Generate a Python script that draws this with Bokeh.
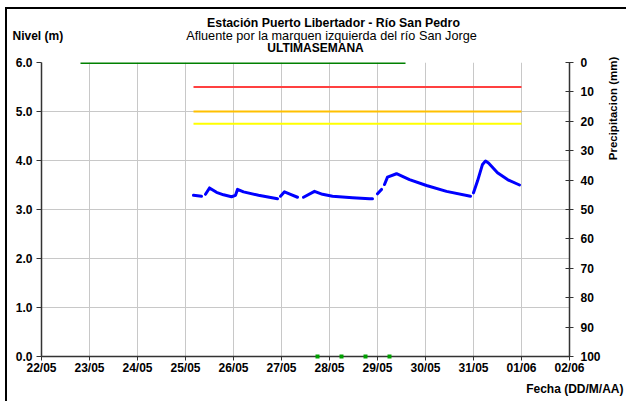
import math
from datetime import datetime, timedelta
import pandas as pd
from bokeh.plotting import figure
from bokeh.models import (Range1d, LinearAxis, Label, DaysTicker, DatetimeTickFormatter,
                          FixedTicker, NumeralTickFormatter, ColumnDataSource)
from bokeh.embed import file_html
from bokeh.resources import INLINE

nan = float("nan")

# ---- data ----
level_time = [
    "2021-05-25 04:00", "2021-05-25 08:00", "2021-05-25 09:00",
    "2021-05-25 10:00", "2021-05-25 12:00", "2021-05-25 15:30", "2021-05-25 19:00", "2021-05-25 23:00",
    "2021-05-26 01:00", "2021-05-26 02:00", "2021-05-26 05:00", "2021-05-26 12:30", "2021-05-26 22:00",
    "2021-05-26 22:45",
    "2021-05-26 23:30", "2021-05-27 01:30", "2021-05-27 04:30", "2021-05-27 08:00",
    "2021-05-27 09:30",
    "2021-05-27 11:00", "2021-05-27 16:30", "2021-05-27 20:30", "2021-05-28 01:30", "2021-05-28 11:30",
    "2021-05-28 20:00", "2021-05-28 21:30",
    "2021-05-28 23:00",
    "2021-05-29 00:00", "2021-05-29 02:00",
    "2021-05-29 02:45",
    "2021-05-29 03:30", "2021-05-29 05:00", "2021-05-29 09:30", "2021-05-29 16:00", "2021-05-30 00:30",
    "2021-05-30 10:30", "2021-05-30 22:30",
    "2021-05-30 23:15",
    "2021-05-31 00:00", "2021-05-31 02:00", "2021-05-31 04:30", "2021-05-31 06:00", "2021-05-31 07:30",
    "2021-05-31 12:00", "2021-05-31 17:00", "2021-05-31 23:00",
]
level_value = [
    3.29, 3.27, nan,
    3.31, 3.44, 3.35, 3.30, 3.26,
    3.29, 3.41, 3.36, 3.29, 3.22,
    nan,
    3.27, 3.36, 3.31, 3.25,
    nan,
    3.25, 3.37, 3.31, 3.27, 3.24,
    3.22, 3.22,
    nan,
    3.32, 3.41,
    nan,
    3.51, 3.66, 3.73, 3.61, 3.49,
    3.37, 3.27,
    nan,
    3.34, 3.58, 3.92, 3.99, 3.95,
    3.75, 3.61, 3.50,
]

threshold_time = ["2021-05-25 04:00", "2021-06-01 00:00"]
threshold_red = [5.5, 5.5]
threshold_orange = [5.0, 5.0]
threshold_yellow = [4.75, 4.75]

precip_time = ["2021-05-22 19:30", "2021-05-29 14:00"]
precip_value = [0, 0]

marker_time = ["2021-05-27 18:00", "2021-05-28 06:00", "2021-05-28 18:00", "2021-05-29 06:00"]
marker_value = [0, 0, 0, 0]

level_ticks = [0, 1, 2, 3, 4, 5, 6]
precip_ticks = [0, 10, 20, 30, 40, 50, 60, 70, 80, 90, 100]

FONT = "Liberation Sans"
X0 = datetime(2021, 5, 22)
X1 = datetime(2021, 6, 2)

lv = ColumnDataSource(dict(t=pd.to_datetime(level_time), y=level_value))

p = figure(width=626, height=401, x_axis_type="datetime",
           x_range=Range1d(X0, X1), y_range=Range1d(0, 6),
           output_backend="svg", toolbar_location=None,
           min_border_left=41, min_border_right=57, min_border_top=62, min_border_bottom=45)
# outer chart-area border (left and top edges), painted behind the transparent canvas border
p.styles = {"background": "linear-gradient(#000, #000) 5px 7px / 621px 2px no-repeat, "
                          "linear-gradient(#000, #000) 5px 7px / 2px 394px no-repeat, #ffffff"}
p.title.visible = False
p.extra_y_ranges = {"p": Range1d(100, 0)}
p.outline_line_color = None
p.background_fill_color = "white"
p.border_fill_color = None

# axes
p.xaxis.ticker = DaysTicker(days=list(range(1, 32)))
p.xaxis.formatter = DatetimeTickFormatter(days="%d/%m", months="%d/%m", hours="%d/%m")
p.yaxis.ticker = FixedTicker(ticks=level_ticks)
p.yaxis.formatter = NumeralTickFormatter(format="0.0")

right = LinearAxis(y_range_name="p", ticker=FixedTicker(ticks=precip_ticks))
p.add_layout(right, "right")

for ax in [p.xaxis[0], p.yaxis[0], right]:
    ax.axis_line_color = "#333333"
    ax.axis_line_width = 1.5
    ax.major_tick_line_color = "#333333"
    ax.minor_tick_line_color = None
    ax.major_label_text_font = FONT
    ax.major_label_text_font_style = "bold"
    ax.major_label_text_font_size = "12px"
    ax.major_label_text_color = "black"
p.xaxis.major_tick_out = 4
p.xaxis.major_tick_in = 0
p.xaxis.major_label_standoff = 0
p.yaxis[0].major_tick_out = 5
p.yaxis[0].major_tick_in = 0
p.yaxis[0].major_label_standoff = 4
right.major_tick_out = 4
right.major_tick_in = 4
right.major_label_standoff = 7

p.xgrid.grid_line_color = "#C8C8C8"
p.ygrid.grid_line_color = "#C8C8C8"

# threshold lines
tt = pd.to_datetime(threshold_time)
p.line(tt, threshold_red, line_color="#FF4040", line_width=2)
p.line(tt, threshold_orange, line_color="#FFC000", line_width=2)
p.line(tt, threshold_yellow, line_color="#FFFF00", line_width=2)

# precipitation (zero) line at the top
p.line(pd.to_datetime(precip_time), precip_value, y_range_name="p",
       line_color="#008000", line_width=3)
p.scatter(pd.to_datetime(marker_time), marker_value, marker="square", size=4,
          fill_color="#00A000", line_color=None, level="overlay")

# level
p.line("t", "y", source=lv, line_color="#0000FF", line_width=3, line_cap="round", line_join="round")

# ---- texts: placed in side panels (not clipped), positioned through the frame scales ----
PX_PER_DAY = 48.0
PX_PER_M = 49.0
FRAME_LEFT, FRAME_TOP = 41.0, 62.0

def at(px, py):
    t = X0 + timedelta(days=(px - FRAME_LEFT) / PX_PER_DAY)
    lvl = 6.0 - (py - FRAME_TOP) / PX_PER_M
    return t, lvl

def lab(side, text, px, py, align="center", bold=True, size="12px", angle=0.0):
    x, y = at(px, py)
    p.add_layout(Label(x=x, y=y, text=text,
                       text_font=FONT, text_font_style="bold" if bold else "normal",
                       text_font_size=size, text_align=align, text_baseline="middle",
                       text_color="black", angle=angle), side)

lab("above", "Estación Puerto Libertador - Río San Pedro", 333, 22, size="12.3px")
lab("above", "Afluente por la marquen izquierda del río San Jorge", 331, 35, bold=False, size="12.7px")
lab("above", "ULTIMASEMANA", 315, 47, size="12px")
lab("above", "Nivel (m)", 12, 35, align="left", size="12px")
lab("right", "Precipitacion (mm)", 612, 108, size="11.5px", angle=math.pi / 2)
lab("below", "Fecha (DD/M/AA)", 623, 388, align="right", size="12px")

open("out.html", "w").write(file_html(p, INLINE))
